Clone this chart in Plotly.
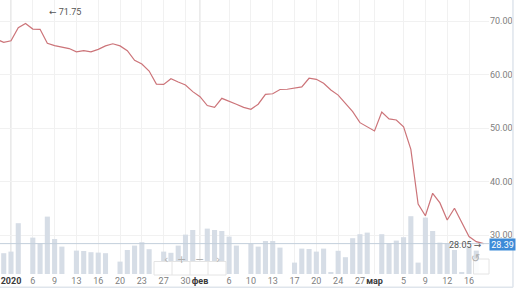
import plotly.graph_objects as go

# ---------------- data ----------------
session_dates = [
    "2019-12-30", "2019-12-31",
    "2020-01-02", "2020-01-03", "2020-01-05", "2020-01-06", "2020-01-07", "2020-01-08",
    "2020-01-09", "2020-01-10", "2020-01-12", "2020-01-13", "2020-01-14", "2020-01-15",
    "2020-01-16", "2020-01-17", "2020-01-19", "2020-01-20", "2020-01-21", "2020-01-22",
    "2020-01-23", "2020-01-24", "2020-01-26", "2020-01-27", "2020-01-28", "2020-01-29",
    "2020-01-30", "2020-01-31", "2020-02-02", "2020-02-03", "2020-02-04", "2020-02-05",
    "2020-02-06", "2020-02-07", "2020-02-09", "2020-02-10", "2020-02-11", "2020-02-12",
    "2020-02-13", "2020-02-14", "2020-02-16", "2020-02-17", "2020-02-18", "2020-02-19",
    "2020-02-20", "2020-02-21", "2020-02-23", "2020-02-24", "2020-02-25", "2020-02-26",
    "2020-02-27", "2020-02-28", "2020-03-01", "2020-03-02", "2020-03-03", "2020-03-04",
    "2020-03-05", "2020-03-06", "2020-03-08", "2020-03-09", "2020-03-10", "2020-03-11",
    "2020-03-12", "2020-03-13", "2020-03-15", "2020-03-16", "2020-03-17", "2020-03-18",
]

close_prices = [
    66.6, 66.0,
    66.3, 68.75, 69.55, 68.5, 68.45, 65.85,
    65.4, 65.15, 64.85, 64.25, 64.45, 64.25,
    64.7, 65.35, 65.75, 65.35, 64.45, 62.65,
    61.95, 60.65, 58.2, 58.15, 59.2, 58.6,
    58.05, 56.8, 55.85, 54.2, 53.85, 55.55,
    55.05, 54.45, 53.85, 53.5, 54.45, 56.3,
    56.4, 57.2, 57.25, 57.5, 57.7, 59.3,
    59.1, 58.35, 57.1, 56.15, 54.5, 53.05,
    51.0, 50.15, 49.45, 53.0, 51.7, 51.5,
    50.2, 46.0, 35.8, 33.6, 37.8, 36.0,
    32.8, 35.0, 32.2, 29.7, 28.75, 28.39,
]

# volume, thousand lots
volumes = [
    105, 104,
    112, 254, 0, 182, 154, 287,
    175, 137, 0, 117, 115, 109,
    107, 104, 0, 62, 120, 142,
    159, 124, 0, 112, 106, 142,
    197, 220, 0, 227, 220, 215,
    187, 142, 0, 152, 137, 165,
    165, 132, 0, 57, 127, 125,
    112, 127, 7, 116, 84, 179,
    199, 207, 0, 199, 154, 167,
    184, 289, 57, 282, 215, 157,
    155, 120, 7, 137, 117, 0,
]

tick_dates = ["2020-01-02", "2020-01-06", "2020-01-09", "2020-01-13", "2020-01-16",
              "2020-01-20", "2020-01-23", "2020-01-27", "2020-01-30", "2020-02-02",
              "2020-02-06", "2020-02-10", "2020-02-13", "2020-02-17", "2020-02-20",
              "2020-02-24", "2020-02-27", "2020-03-01", "2020-03-05", "2020-03-09",
              "2020-03-12", "2020-03-16"]
tick_labels = ["2020", "6", "9", "13", "16", "20", "23", "27", "30", "фев",
               "6", "10", "13", "17", "20", "24", "27", "мар", "5", "9", "12", "16"]
major_labels = ["2020", "фев", "мар"]

price_ticks = [30, 40, 50, 60, 70]
last_price = 28.39
period_high = 71.75
period_high_date = "2020-01-08"
period_low = 28.05
period_low_date = "2020-03-18"

# ---------------- build ----------------
origin = session_dates.index("2020-01-02")
xpos = [i - origin for i in range(len(session_dates))]
pos = {d: i - origin for i, d in enumerate(session_dates)}

tick_vals = [pos[d] for d in tick_dates]
tick_text = [
    f"<b><span style='color:#3a3a3a'>{t}</span></b>" if t in major_labels else t
    for t in tick_labels
]

LINE = "#cc7479"
BAR = "#d6dde6"
GRID = "#f1f1f1"
MAJOR = "#d5d5d5"
FONT = "Roboto"

fig = go.Figure()

fig.add_trace(go.Bar(
    x=xpos, y=volumes, yaxis="y2", marker=dict(color=BAR, line=dict(width=0)),
    width=0.7, hoverinfo="skip", showlegend=False,
))

fig.add_trace(go.Scatter(
    x=xpos, y=close_prices, mode="lines",
    line=dict(color=LINE, width=1.2), showlegend=False, hoverinfo="skip",
))

shapes = []
for d, t in zip(tick_dates, tick_labels):
    if t in major_labels:
        shapes.append(dict(type="line", xref="x", yref="paper", x0=pos[d], x1=pos[d],
                           y0=0, y1=1, line=dict(color=MAJOR, width=1), layer="below"))
shapes.append(dict(type="line", xref="paper", yref="y", x0=0, x1=1, y0=last_price,
                   y1=last_price, line=dict(color="#c3cfdb", width=1), layer="above"))
shapes.append(dict(type="line", xref="paper", yref="paper", x0=1.049, x1=1.049,
                   y0=-0.048, y1=1.0, line=dict(color="#dfe5ec", width=1.5)))
shapes.append(dict(type="line", xref="paper", yref="paper", x0=-0.01, x1=1.049,
                   y0=-0.048, y1=-0.048, line=dict(color="#dfe5ec", width=1.5)))

px_w, px_h = 489.0, 274.0
def px_x(v):
    return v / px_w
def px_y(v):
    return (px_h - v) / px_h

shapes.append(dict(type="rect", xref="paper", yref="paper",
                   x0=px_x(154), x1=px_x(226), y0=px_y(275), y1=px_y(261.5),
                   fillcolor="white", line=dict(color="#e4e4e4", width=1), layer="above"))
for xd in (172, 190, 208):
    shapes.append(dict(type="line", xref="paper", yref="paper", x0=px_x(xd), x1=px_x(xd),
                       y0=px_y(275), y1=px_y(261.5), line=dict(color="#e4e4e4", width=1)))
shapes.append(dict(type="rect", xref="paper", yref="paper",
                   x0=px_x(473.5), x1=px_x(489), y0=px_y(274), y1=px_y(259),
                   fillcolor="rgba(255,255,255,0.9)", line=dict(color="#e4e4e4", width=1),
                   layer="above"))

annotations = []
for glyph, xc in (("‹", 162), ("+", 181), ("−", 199.5), ("›", 217.5)):
    annotations.append(dict(xref="paper", yref="paper", x=px_x(xc), y=px_y(267.5),
                            text=glyph, showarrow=False,
                            font=dict(family="DejaVu Sans", size=11, color="#b0b0b0")))
annotations.append(dict(xref="paper", yref="paper", x=px_x(481.5), y=px_y(266.5),
                        text="↺", showarrow=False,
                        font=dict(family="DejaVu Sans", size=11, color="#b0b0b0")))

annotations.append(dict(x=pos[period_high_date], y=period_high, xref="x", yref="y",
                        text=f"<span style='font-family:DejaVu Sans'>←</span> {period_high:.2f}",
                        showarrow=False, xanchor="left", xshift=0,
                        font=dict(family=FONT, size=9, color="#555")))
annotations.append(dict(x=pos[period_low_date], y=period_low, xref="x", yref="y",
                        text=f"{period_low:.2f} <span style='font-family:DejaVu Sans'>→</span>",
                        showarrow=False, xanchor="right", xshift=0,
                        font=dict(family=FONT, size=9, color="#555")))
annotations.append(dict(x=1.0, y=last_price, xref="paper", yref="y", yshift=-1,
                        text=f"{last_price:.2f}", showarrow=False, xanchor="left",
                        width=24, height=10, bgcolor="#3d8bd8", borderpad=0.5,
                        font=dict(family=FONT, size=9, color="white")))

fig.update_layout(
    width=516, height=290,
    margin=dict(l=0, r=27, t=0, b=16),
    paper_bgcolor="white", plot_bgcolor="white",
    xaxis=dict(range=[-1.513, 65.75], tickmode="array", tickvals=tick_vals,
               ticktext=tick_text, tickangle=0, showgrid=True, gridcolor=GRID,
               gridwidth=1, zeroline=False, showline=False, ticks="",
               tickfont=dict(family=FONT, size=9, color="#808080")),
    yaxis=dict(range=[22.71, 73.93], side="right", tickmode="array",
               tickvals=price_ticks, tickformat=".2f", showgrid=True,
               gridcolor=GRID, zeroline=False, ticks="",
               tickfont=dict(family=FONT, size=9, color="#808080")),
    yaxis2=dict(range=[0, 274 * 5.0], overlaying="y", side="left", visible=False,
                showgrid=False, zeroline=False),
    shapes=shapes,
    annotations=annotations,
)

fig.write_html("out.html")
